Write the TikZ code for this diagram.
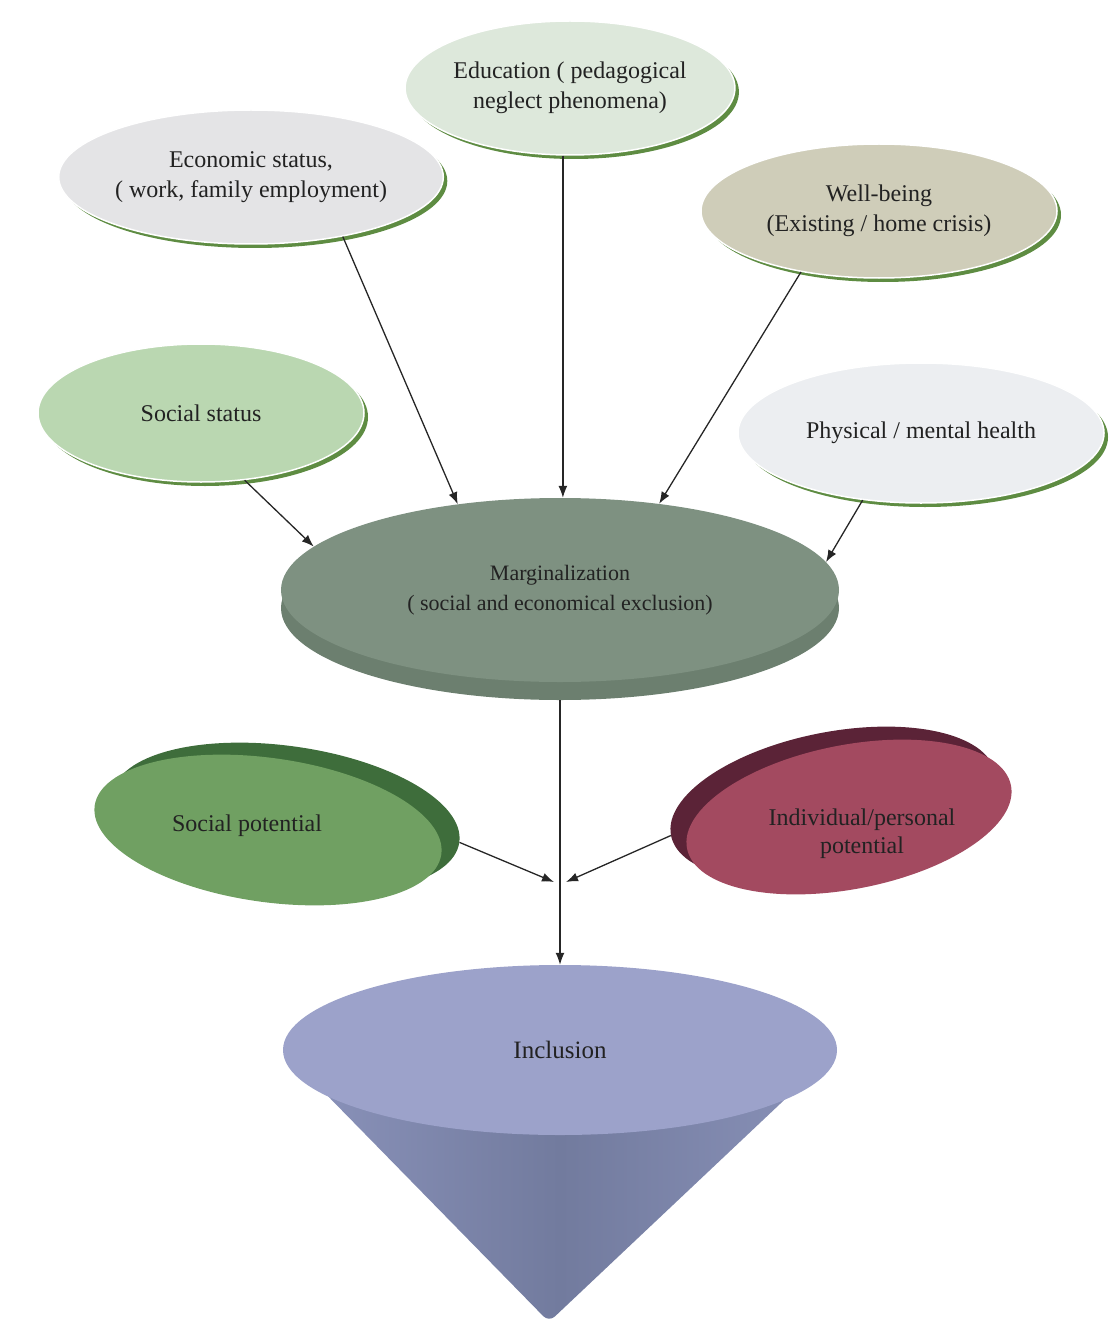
\documentclass[tikz,border=0pt]{standalone}
\usepackage{fontspec}
\setmainfont{Liberation Serif}
\usetikzlibrary{arrows.meta,shapes.geometric,shadows,backgrounds}
\definecolor{txtgray}{HTML}{222222}
\definecolor{rimgreen}{HTML}{5E8C42}
\definecolor{edufill}{HTML}{DDE8DB}
\definecolor{ecofill}{HTML}{E4E4E6}
\definecolor{wellfill}{HTML}{CFCDB9}
\definecolor{socfill}{HTML}{BAD7B1}
\definecolor{hlthfill}{HTML}{ECEEF1}
\definecolor{margfill}{HTML}{7E9181}
\definecolor{margside}{HTML}{6C7F6F}
\definecolor{spotfill}{HTML}{70A062}
\definecolor{spotside}{HTML}{3E6D3B}
\definecolor{ipotfill}{HTML}{A34A60}
\definecolor{ipotside}{HTML}{5B2337}
\definecolor{conetop}{HTML}{9CA2CA}
\definecolor{coneL}{HTML}{8C94BC}
\definecolor{coneM}{HTML}{727B9E}
\definecolor{coneR}{HTML}{8A92B9}
\tikzstyle{topnd} = [shape=ellipse, draw=white, line width=1.5pt, inner sep=0pt, align=center, text=txtgray, font=\fontsize{24}{30}\selectfont, drop shadow={shadow xshift=4pt,shadow yshift=-4pt,fill=rimgreen,opacity=1}]
\tikzstyle{margnd} = [shape=ellipse, fill=margfill, inner sep=0pt, minimum width=558pt, minimum height=184pt, align=center, text=txtgray, font=\fontsize{22}{30}\selectfont, drop shadow={shadow xshift=0pt,shadow yshift=-18pt,fill=margside,opacity=1}]
\tikzstyle{disc} = [shape=ellipse, inner sep=0pt, minimum height=144pt]
\tikzstyle{lbl} = [align=center, text=txtgray, font=\fontsize{24}{28}\selectfont]
\tikzstyle{arr} = [style={->,>={Latex[length=12pt,width=9pt]},line width=1.3pt,draw=black!85}]

\begin{document}
\begin{tikzpicture}[x=1pt,y=-1pt]
        \useasboundingbox (0,0) rectangle (1115,1340);
        % causes
        \node[topnd, fill=edufill, minimum width=324pt, minimum height=134pt] (edu) at (570,88) {Education ( pedagogical\\neglect phenomena)};
        \node[topnd, fill=ecofill, minimum width=326pt, minimum height=134pt] (eco) at (251,177) {Economic status,\\( work, family employment)};
        \node[topnd, fill=wellfill, minimum width=356pt, minimum height=134pt] (well) at (879,211) {Well-being\\(Existing / home crisis)};
        \node[topnd, fill=socfill, minimum width=326pt, minimum height=138pt] (soc) at (201,413) {Social status};
        \node[topnd, fill=hlthfill, minimum width=366pt, minimum height=140pt] (hlth) at (921,433) {Physical / mental health};
        \node[margnd] (marg) at (560,590) {Marginalization\\( social and economical exclusion)};
        % potentials
        \node[disc, fill=spotside, minimum width=350pt, rotate=-8] (spotb) at (286,818) {};
        \node[disc, fill=spotfill, minimum width=350pt, rotate=-8] (spot) at (268,830) {};
        \node[lbl] (spott) at (247,826) {Social potential};
        \node[disc, fill=ipotside, minimum width=330pt, rotate=11] (ipotb) at (833,804) {};
        \node[disc, fill=ipotfill, minimum width=330pt, rotate=11] (ipot) at (849,817) {};
        \node[lbl] (ipott) at (862,834) {Individual/personal\\potential};
        % cone
        \node[shape=ellipse, fill=conetop, inner sep=0pt, minimum width=554pt, minimum height=170pt, text=txtgray, font=\fontsize{25}{30}\selectfont] (incl) at (560,1050) {Inclusion};
        \coordinate (apex) at (549,1322);
        \begin{scope}[on background layer]
          \shade[left color=coneL, right color=coneR, middle color=coneM, rounded corners=8pt] (incl.west) -- (apex) -- (incl.east) -- cycle;
        \end{scope}
        \coordinate (j) at (560,882);
        \draw[arr] (eco.-33) -- (marg.140);
        \draw[arr] (edu.-96) -- (edu.-96 |- marg.north);
        \draw[arr] (well.218) -- (marg.41);
        \draw[arr] (soc.-57) -- (marg.170);
        \draw[arr] (hlth.229) -- (marg.6);
        \draw[arr] ([yshift=-18pt]marg.south) -- (incl.north);
        \draw[arr] (spotb.east) -- ([xshift=-6pt]j);
        \draw[arr] (ipotb.west) -- ([xshift=6pt]j);
      \end{tikzpicture}
\end{document}
